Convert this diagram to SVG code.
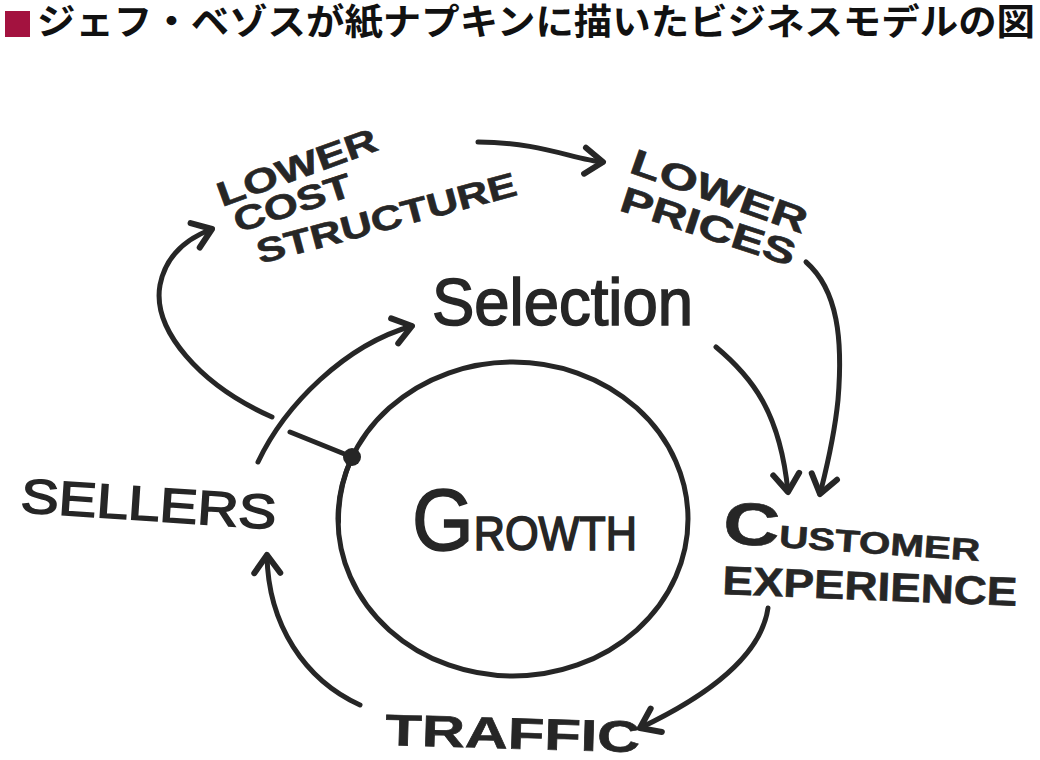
<svg xmlns="http://www.w3.org/2000/svg" width="1040" height="760" viewBox="0 0 1040 760">
<defs>
<style>
.hand{font-family:"Liberation Sans","DejaVu Sans",sans-serif;font-weight:700;fill:#262626;stroke:#262626;stroke-width:0.6}
.thin{font-family:"Liberation Sans","DejaVu Sans",sans-serif;font-weight:400;fill:#262626;stroke:#262626;stroke-width:1.6}
.line{fill:none;stroke:#262626;stroke-width:5;stroke-linecap:round;stroke-linejoin:round}
.arrow{marker-end:url(#chev)}
</style>
<marker id="chev" markerUnits="userSpaceOnUse" viewBox="-24 -18 28 36" refX="0" refY="0" markerWidth="28" markerHeight="36" orient="auto" overflow="visible">
<path d="M-18,-13 L0,0 L-18,13" fill="none" stroke="#262626" stroke-width="6" stroke-linecap="round" stroke-linejoin="round"/>
</marker>
</defs>
<rect width="1040" height="760" fill="#ffffff"/>
<g id="title">
<rect x="5" y="11" width="25" height="26" fill="#a3123f"/>
<text x="37" y="35" font-family="'Liberation Sans','Noto Sans CJK JP','Noto Sans CJK SC',sans-serif" font-weight="700" font-size="36" fill="#111" textLength="998" lengthAdjust="spacingAndGlyphs">ジェフ・ベゾスが紙ナプキンに描いたビジネスモデルの図</text>
</g>
<g id="connectors">
<path class="line arrow" d="M478,142 C540,142 575,160 603,162"/>
<path class="line arrow" d="M272,417 C200,385 152,330 160,285 C166,254 188,238 212,229"/>
<path class="line" d="M290,432 L352,457"/>
<path class="line arrow" d="M258,462 C285,405 345,345 412,326"/>
<path class="line arrow" d="M716,347 C752,377 780,412 788,492"/>
<path class="line arrow" d="M806,262 C838,290 843,340 838,400 C834,440 826,470 820,494"/>
<path class="line arrow" d="M768,608 C762,650 720,690 640,728"/>
<path class="line arrow" d="M360,705 C305,680 268,625 267,555"/>
</g>
<g id="growth">
<ellipse cx="513" cy="519" rx="175" ry="157" class="line"/>
<path d="M352,457 C344,475 338,495 338.5,522" class="line" stroke-width="7.5"/>
<circle cx="352" cy="457" r="9" fill="#262626"/>
<text class="thin" x="412" y="550" textLength="225" lengthAdjust="spacingAndGlyphs"><tspan font-size="88">G</tspan><tspan font-size="48">ROWTH</tspan></text>
</g>
<g id="lower-cost-structure">
<text class="hand" font-size="34" transform="translate(222,207) rotate(-20)" textLength="168" lengthAdjust="spacingAndGlyphs">LOWER</text>
<text class="hand" font-size="34" transform="translate(238,233) rotate(-18)" textLength="122" lengthAdjust="spacingAndGlyphs">COST</text>
<text class="hand" font-size="34" transform="translate(260,264) rotate(-15)" textLength="268" lengthAdjust="spacingAndGlyphs">STRUCTURE</text>
</g>
<g id="lower-prices">
<text class="hand" font-size="36" transform="translate(628,172) rotate(19.5)" textLength="185" lengthAdjust="spacingAndGlyphs">LOWER</text>
<text class="hand" font-size="36" transform="translate(618,210) rotate(18)" textLength="182" lengthAdjust="spacingAndGlyphs">PRICES</text>
</g>
<g id="selection">
<text class="thin" x="432" y="325" font-size="66" textLength="261" lengthAdjust="spacingAndGlyphs">Selection</text>
</g>
<g id="customer-experience">
<text class="hand" transform="translate(722,543) rotate(4)" textLength="258" lengthAdjust="spacingAndGlyphs"><tspan font-size="60">C</tspan><tspan font-size="31">USTOMER</tspan></text>
<text class="hand" font-size="40" transform="translate(722,594) rotate(2.3)" textLength="295" lengthAdjust="spacingAndGlyphs">EXPERIENCE</text>
</g>
<g id="sellers">
<text class="thin" font-size="48" transform="translate(20,512) rotate(3.8)" textLength="256" lengthAdjust="spacingAndGlyphs">SELLERS</text>
</g>
<g id="traffic">
<text class="hand" font-size="44" transform="translate(385,745) rotate(1.6)" textLength="255" lengthAdjust="spacingAndGlyphs">TRAFFIC</text>
</g>
</svg>
